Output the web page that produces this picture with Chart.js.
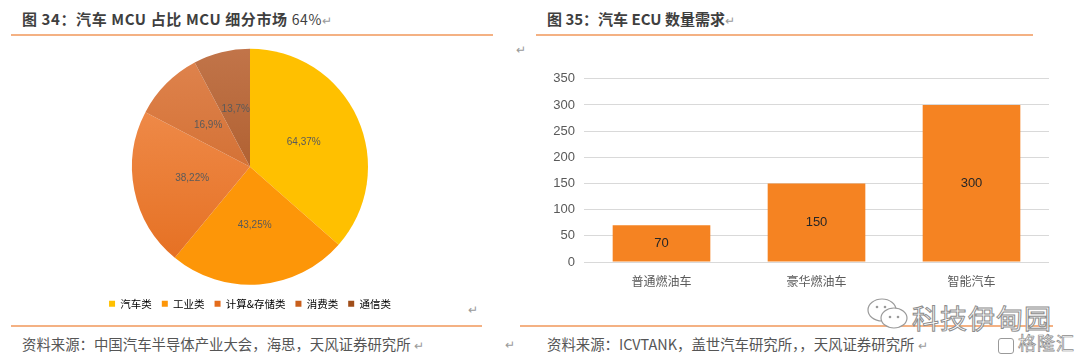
<!DOCTYPE html>
<html>
<head>
<meta charset="utf-8">
<script src="https://cdn.jsdelivr.net/npm/chart.js@4"></script>
<style>
  body { margin: 0; width: 1080px; height: 364px; background: #fff; position: relative; overflow: hidden;
         font-family: "Noto Sans CJK SC", "Liberation Sans", sans-serif; }
  .abs { position: absolute; }
  .title { font-size: 15px; font-weight: bold; color: #3f3f3f; top: 8px; white-space: nowrap; }
  .title .small { font-size: 14px; font-weight: normal; margin-left: 4px; }
  .ret { color: #9a9a9a; font-weight: normal; font-size: 12px; }
  .src { font-size: 14.4px; color: #555; top: 333px; white-space: nowrap; }
  .rule { height: 1.5px; background: #f4b183; }
  .wm { font-size: 27px; color: #fff; -webkit-text-stroke: 1px #8c8c8c; letter-spacing: 1px; }
</style>
</head>
<body>
<div class="abs title" style="left:22px; letter-spacing:0.6px">图 34：汽车 MCU 占比 MCU 细分市场<span class="small">64%</span><span class="ret">↵</span></div>
<div class="abs title" style="left:547px">图 35：汽车 ECU 数量需求<span class="ret">↵</span></div>
<div class="abs rule" style="left:11px; top:34px; width:482px"></div>
<div class="abs rule" style="left:536px; top:34px; width:497px"></div>
<div class="abs ret" style="left:516px; top:40px">↵</div>
<div class="abs ret" style="left:468px; top:300px">↵</div>

<div class="abs" style="left:60px; top:45px; width:380px; height:274px"><canvas id="pieChart"></canvas></div>
<div class="abs" style="left:540px; top:62px; width:520px; height:229px"><canvas id="barChart"></canvas></div>

<div class="abs rule" style="left:11px; top:325px; width:471px"></div>
<div class="abs rule" style="left:520px; top:325px; width:533px"></div>
<div class="abs src" style="left:22px">资料来源：中国汽车半导体产业大会，海思，天风证券研究所 <span class="ret">↵</span></div>
<div class="abs ret" style="left:505px; top:335px">↵</div>
<div class="abs src" style="left:547px">资料来源：ICVTANK，盖世汽车研究所，，天风证券研究所 <span class="ret">↵</span></div>

<svg class="abs" style="left:866px; top:296px" width="46" height="38" viewBox="0 0 46 38">
  <ellipse cx="16" cy="14" rx="14" ry="11" fill="#fff" stroke="#9a9a9a" stroke-width="1.2"/>
  <ellipse cx="28" cy="22" rx="13" ry="10" fill="#fff" stroke="#9a9a9a" stroke-width="1.2"/>
  <circle cx="24" cy="21" r="1.3" fill="#9a9a9a"/><circle cx="32" cy="21" r="1.3" fill="#9a9a9a"/>
  <circle cx="11" cy="11" r="1.3" fill="#9a9a9a"/><circle cx="19" cy="11" r="1.3" fill="#9a9a9a"/>
</svg>
<div class="abs wm" style="left:912px; top:298px">科技伊甸园</div>
<div class="abs" style="left:998px; top:338px; width:14px; height:14px; border:1.2px solid #9a9a9a; border-radius:3px"></div>
<div class="abs wm" style="left:1018px; top:329px; font-size:18px; letter-spacing:1px; -webkit-text-stroke:0.7px #8c8c8c">格隆汇</div>

<script>
// pie: MCU segments
const pieLabels = ["汽车类", "工业类", "计算&存储类", "消费类", "通信类"];
const pieValues = [64.37, 43.25, 38.22, 16.9, 13.7];
const pieTop = ["#ffc000", "#fd9608", "#f29458", "#e08550", "#c2754a"];
const pieBottom = ["#ffc000", "#fd9608", "#e46c1c", "#c85f1c", "#a04e1a"];

// bar: ECU demand
const barLabels = ["普通燃油车", "豪华燃油车", "智能汽车"];
const barValues = [70, 150, 300];
const yTicks = [0, 50, 100, 150, 200, 250, 300, 350];

Chart.defaults.font.family = '"Liberation Sans", "Noto Sans CJK SC", sans-serif';
Chart.defaults.color = "#595959";
Chart.defaults.animation = false;

function sliceColor(ctx) {
  const i = ctx.dataIndex;
  const area = ctx.chart.chartArea;
  if (!area || pieTop[i] === pieBottom[i]) return pieTop[i];
  const g = ctx.chart.ctx.createLinearGradient(0, area.top, 0, area.bottom);
  g.addColorStop(0, pieTop[i]);
  g.addColorStop(1, pieBottom[i]);
  return g;
}

const pieLabelsPlugin = {
  id: "pieLabels",
  afterDatasetsDraw(chart) {
    const ctx = chart.ctx;
    const meta = chart.getDatasetMeta(0);
    ctx.save();
    ctx.font = '10px "Liberation Sans", sans-serif';
    ctx.fillStyle = "#5a5a5a";
    ctx.textAlign = "center";
    ctx.textBaseline = "middle";
    meta.data.forEach((arc, i) => {
      const p = arc.tooltipPosition();
      ctx.fillText(String(pieValues[i]).replace(".", ",") + "%", p.x, p.y);
    });
    ctx.restore();
  }
};

new Chart(document.getElementById("pieChart"), {
  type: "pie",
  data: {
    labels: pieLabels,
    datasets: [{
      data: pieValues,
      backgroundColor: sliceColor,
      borderWidth: 0,
      radius: 118
    }]
  },
  options: {
    responsive: true,
    maintainAspectRatio: false,
    layout: { padding: 0 },
    plugins: {
      legend: {
        position: "bottom",
        labels: {
          boxWidth: 6,
          boxHeight: 6,
          padding: 10,
          color: "#595959",
          font: { size: 10.5, family: '"Noto Sans CJK SC", sans-serif' },
          generateLabels(chart) {
            return pieLabels.map((l, i) => ({
              text: l,
              fillStyle: pieBottom[i] === pieTop[i] ? pieTop[i] : pieBottom[i],
              strokeStyle: "rgba(0,0,0,0)",
              lineWidth: 0,
              index: i
            }));
          }
        }
      },
      tooltip: { enabled: false }
    }
  },
  plugins: [pieLabelsPlugin]
});

const barLabelsPlugin = {
  id: "barLabels",
  afterDatasetsDraw(chart) {
    const ctx = chart.ctx;
    const meta = chart.getDatasetMeta(0);
    ctx.save();
    ctx.font = '13px "Liberation Sans", sans-serif';
    ctx.fillStyle = "#262626";
    ctx.textAlign = "center";
    ctx.textBaseline = "middle";
    meta.data.forEach((bar, i) => {
      ctx.fillText(String(barValues[i]), bar.x, (bar.y + bar.base) / 2);
    });
    ctx.restore();
  }
};

new Chart(document.getElementById("barChart"), {
  type: "bar",
  data: {
    labels: barLabels,
    datasets: [{
      data: barValues,
      backgroundColor: "#f58322",
      barPercentage: 0.7,
      categoryPercentage: 0.9
    }]
  },
  options: {
    responsive: true,
    maintainAspectRatio: false,
    layout: { padding: { top: 15, right: 11, left: 0, bottom: 0 } },
    plugins: { legend: { display: false }, tooltip: { enabled: false } },
    scales: {
      x: {
        grid: { display: false, drawTicks: false },
        border: { display: false },
        ticks: { padding: 12, color: "#595959", font: { size: 12, family: '"Noto Sans CJK SC", sans-serif' } },
        afterFit(s) { s.height = 29; }
      },
      y: {
        min: 0,
        max: 350,
        afterBuildTicks(s) { s.ticks = yTicks.map(v => ({ value: v })); },
        grid: { color: "#d9d9d9", drawTicks: false },
        border: { display: false },
        ticks: { padding: 9, color: "#595959", font: { size: 13 } },
        afterFit(s) { s.width = 44; }
      }
    }
  },
  plugins: [barLabelsPlugin]
});
</script>
</body>
</html>
